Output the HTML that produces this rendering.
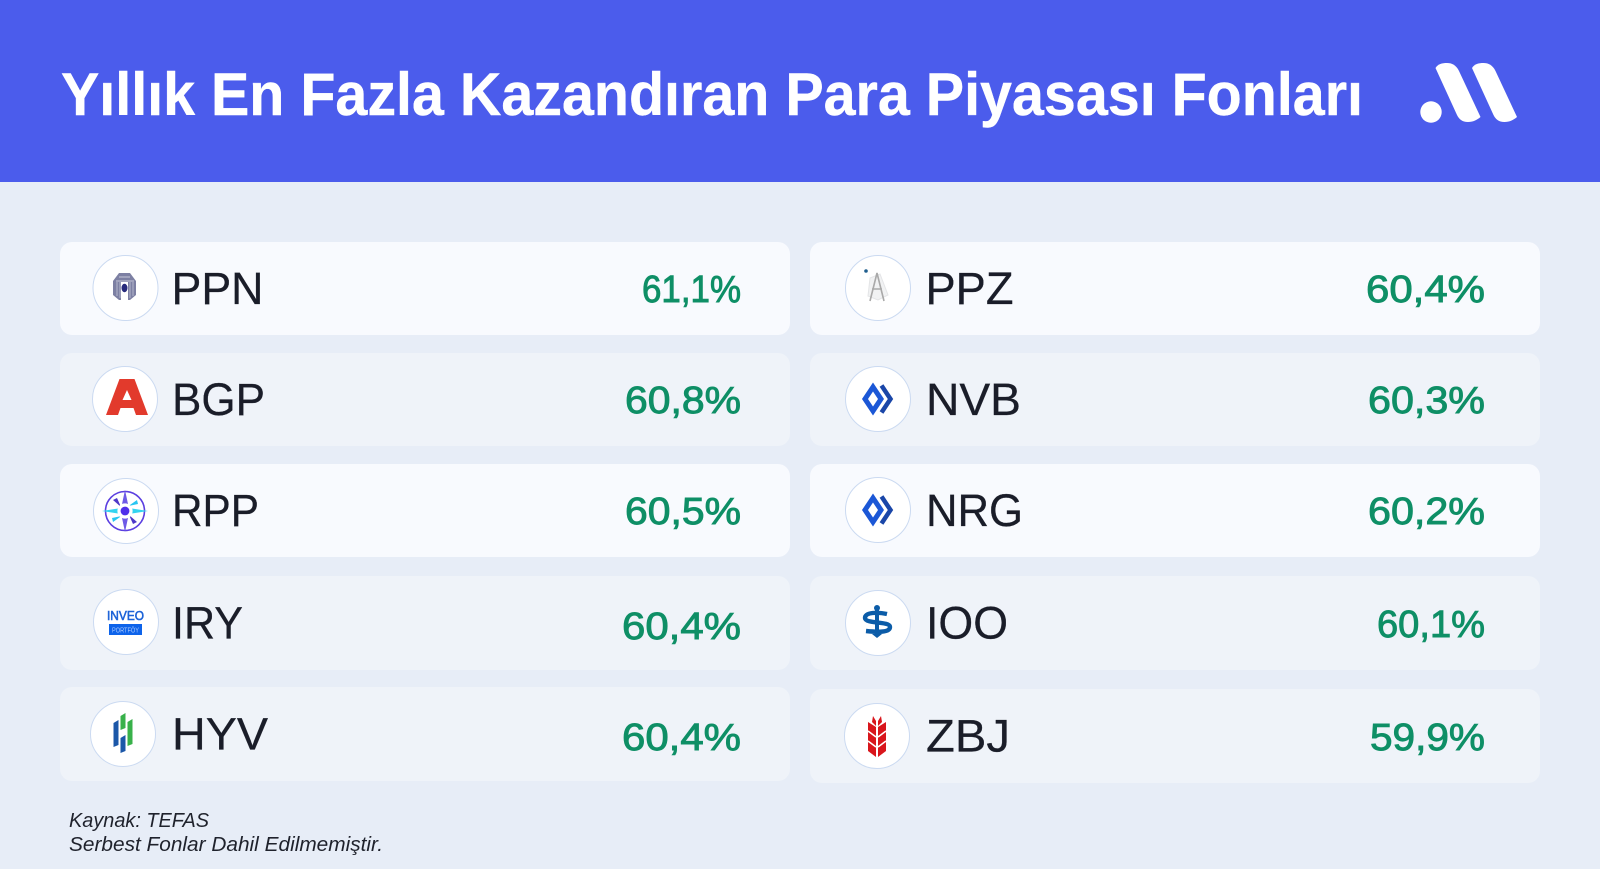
<!DOCTYPE html>
<html lang="tr">
<head>
<meta charset="utf-8">
<title>Yıllık En Fazla Kazandıran Para Piyasası Fonları</title>
<style>
html,body{margin:0;padding:0;background:#E7EDF7;}
svg{display:block;}
text{font-family:"Liberation Sans",sans-serif;}
.ticker{font-size:45px;fill:#1A1D29;stroke:#1A1D29;stroke-width:.25px;}
.val{font-size:38px;fill:#0E8F66;stroke:#0E8F66;stroke-width:.9px;}
.foot{font-size:20px;font-style:italic;fill:#1F222C;}
.odd{fill:#F8FAFE;}
.even{fill:#EFF3F9;}
.disc{fill:#fff;stroke:#CBDAF1;stroke-width:1;}
</style>
</head>
<body>
<svg width="1600" height="869" viewBox="0 0 1600 869" xmlns="http://www.w3.org/2000/svg">
  <rect width="1600" height="869" fill="#E7EDF7"/>
  <rect width="1600" height="182" fill="#4B5CEC"/>
  <text x="61" y="115" font-size="60" font-weight="700" fill="#fff" stroke="#fff" stroke-width=".4" textLength="1302" lengthAdjust="spacingAndGlyphs">Yıllık En Fazla Kazandıran Para Piyasası Fonları</text>

  <g fill="#fff">
    <circle cx="1431" cy="112" r="10.7"/>
    <path d="M1435.5,68 C1438,64 1442,63 1447,63 C1452,63 1456,65 1459,71 L1480.5,117 C1477,120 1473,122 1468,122 C1462,122 1459,119 1457,115 Z"/>
    <path d="M1472,68 C1474.5,64 1478.5,63 1483.5,63 C1488.5,63 1492.5,65 1495.5,71 L1517,117 C1513.5,120 1509.5,122 1504.5,122 C1498.5,122 1495.5,119 1493.5,115 Z"/>
  </g>

  <!-- Left column -->
  <g>
    <rect class="odd" x="60" y="242" width="730" height="93" rx="12"/>
    <circle class="disc" cx="125.5" cy="288" r="32.5"/>
    <g>
      <path d="M119,273 H130 L136,281 V295 L130,300 H119 L113,295 V281 Z" fill="#7D80A3"/>
      <path d="M119,277 H130 M116,281 H134" stroke="#C6C8DA" stroke-width="1"/>
      <path d="M117,282 V296 M120,282 V298 M130,282 V298 M133,282 V296" stroke="#B5B7CE" stroke-width="1"/>
      <rect x="121" y="282" width="7" height="20" fill="#fff"/>
      <ellipse cx="124.5" cy="288" rx="3" ry="4.2" fill="#272A7C"/>
    </g>
    <text class="ticker" x="171.5" y="304" textLength="92" lengthAdjust="spacingAndGlyphs">PPN</text>
    <text class="val" x="642" y="302" textLength="99" lengthAdjust="spacingAndGlyphs">61,1%</text>
  </g>
  <g>
    <rect class="even" x="60" y="353" width="730" height="93" rx="12"/>
    <circle class="disc" cx="125" cy="399" r="32.5"/>
    <path transform="translate(127,397)" fill="#E23A2C" fill-rule="evenodd" d="M-7.5,-18 L7.5,-18 L21,18 L9,18 L6.5,11 L-6.5,11 L-9,18 L-21,18 Z M0,-7 L4.5,3 L-4.5,3 Z"/>
    <text class="ticker" x="172" y="415" textLength="93" lengthAdjust="spacingAndGlyphs">BGP</text>
    <text class="val" x="625" y="413" textLength="116" lengthAdjust="spacingAndGlyphs">60,8%</text>
  </g>
  <g>
    <rect class="odd" x="60" y="464" width="730" height="93" rx="12"/>
    <circle class="disc" cx="126" cy="511" r="32.5"/>
    <g transform="translate(125,511)">
      <circle r="19.5" fill="none" stroke="#5B3FE0" stroke-width="1.6"/>
      <path d="M-4,-4 L-12,-11 L-8,-13 Z M4,4 L12,11 L8,13 Z" fill="#4D38C8"/>
      <path d="M3.5,-5 L12,-11 L13,-7 Z M-3.5,5 L-12,11 L-13,7 Z" fill="#27C6F2"/>
      <path d="M0,-21 L3,-7 H-3 Z M0,21 L3,7 H-3 Z" fill="#6E5AE6"/>
      <path d="M-23,0 L-7,-2.5 V2.5 Z M23,0 L7,-2.5 V2.5 Z" fill="#33D4F0"/>
      <circle r="7.6" fill="#fff"/>
      <circle r="4.4" fill="#4F2EEA"/>
    </g>
    <text class="ticker" x="172" y="526" textLength="87" lengthAdjust="spacingAndGlyphs">RPP</text>
    <text class="val" x="625" y="524" textLength="116" lengthAdjust="spacingAndGlyphs">60,5%</text>
  </g>
  <g>
    <rect class="even" x="60" y="576" width="730" height="94" rx="12"/>
    <circle class="disc" cx="126" cy="622" r="32.5"/>
    <g>
      <text x="107" y="620" font-size="13" fill="#1D63D8" stroke="#1D63D8" stroke-width=".6" textLength="37" lengthAdjust="spacingAndGlyphs">INVEO</text>
      <rect x="109" y="624" width="33" height="11" fill="#0D63EA"/>
      <text x="112" y="632.5" font-size="7.5" fill="#A9C8FF" textLength="27" lengthAdjust="spacingAndGlyphs">PORTFÖY</text>
    </g>
    <text class="ticker" x="172" y="638.5" textLength="71" lengthAdjust="spacingAndGlyphs">IRY</text>
    <text class="val" x="622" y="639" textLength="119" lengthAdjust="spacingAndGlyphs">60,4%</text>
  </g>
  <g>
    <rect class="even" x="60" y="687" width="730" height="94" rx="12"/>
    <circle class="disc" cx="123" cy="734" r="32.5"/>
    <g>
      <path d="M113.5,723 L118.5,720 V745 L113.5,747 Z" fill="#1B57A8"/>
      <path d="M120.5,716 L125.5,713 V728 L120.5,730 Z" fill="#38B14A"/>
      <path d="M120.5,738 L125.5,735 V751 L120.5,753 Z" fill="#1B57A8"/>
      <path d="M127.5,722 L132.5,719 V744 L127.5,746 Z" fill="#38B14A"/>
    </g>
    <text class="ticker" x="172" y="749.5" textLength="96" lengthAdjust="spacingAndGlyphs">HYV</text>
    <text class="val" x="622" y="750" textLength="119" lengthAdjust="spacingAndGlyphs">60,4%</text>
  </g>

  <!-- Right column -->
  <g>
    <rect class="odd" x="810" y="242" width="730" height="93" rx="12"/>
    <circle class="disc" cx="878" cy="288" r="32.5"/>
    <g>
      <path d="M870,278 L880,274 L888,295 L878,300 L868,296 Z" fill="#F1F2F3" stroke="#E4E5E7" stroke-width="1"/>
      <path d="M870,301 L877,273 L884,301 M872,289 H882" fill="none" stroke="#A9A9A9" stroke-width="1.6"/>
      <circle cx="866" cy="271" r="1.8" fill="#1F5E8E"/>
    </g>
    <text class="ticker" x="925.5" y="304" textLength="88" lengthAdjust="spacingAndGlyphs">PPZ</text>
    <text class="val" x="1366" y="302" textLength="119" lengthAdjust="spacingAndGlyphs">60,4%</text>
  </g>
  <g>
    <rect class="even" x="810" y="353" width="730" height="93" rx="12"/>
    <circle class="disc" cx="878" cy="399" r="32.5"/>
    <g fill="none">
      <path d="M873,387 L865,399 L873,411 L881,399 Z" stroke="#1B57D6" stroke-width="5"/>
      <path d="M881.5,385.5 L890.5,399 L881.5,412.5" stroke="#1A46A8" stroke-width="4.5"/>
    </g>
    <text class="ticker" x="926" y="415" textLength="95" lengthAdjust="spacingAndGlyphs">NVB</text>
    <text class="val" x="1368" y="413" textLength="117" lengthAdjust="spacingAndGlyphs">60,3%</text>
  </g>
  <g>
    <rect class="odd" x="810" y="464" width="730" height="93" rx="12"/>
    <circle class="disc" cx="878" cy="510" r="32.5"/>
    <g fill="none">
      <path d="M873,498 L865,510 L873,522 L881,510 Z" stroke="#1B57D6" stroke-width="5"/>
      <path d="M881.5,496.5 L890.5,510 L881.5,523.5" stroke="#1A46A8" stroke-width="4.5"/>
    </g>
    <text class="ticker" x="926" y="526" textLength="97" lengthAdjust="spacingAndGlyphs">NRG</text>
    <text class="val" x="1368" y="524" textLength="117" lengthAdjust="spacingAndGlyphs">60,2%</text>
  </g>
  <g>
    <rect class="even" x="810" y="576" width="730" height="94" rx="12"/>
    <circle class="disc" cx="878" cy="623" r="32.5"/>
    <g>
      <circle cx="877" cy="608" r="3" fill="#0B5CA8"/>
      <rect x="875" y="610" width="4" height="26" fill="#0B5CA8"/>
      <path d="M887,614 C878,612 865,612 865,618 C865,624 890,621 890,627 C890,633 876,632 866,631" fill="none" stroke="#0B5CA8" stroke-width="4.4"/>
      <path d="M872,634 H882 L877,638 Z" fill="#0B5CA8"/>
    </g>
    <text class="ticker" x="926" y="638.5" textLength="82" lengthAdjust="spacingAndGlyphs">IOO</text>
    <text class="val" x="1377" y="637" textLength="108" lengthAdjust="spacingAndGlyphs">60,1%</text>
  </g>
  <g>
    <rect class="even" x="810" y="689" width="730" height="94" rx="12"/>
    <circle class="disc" cx="877" cy="736" r="32.5"/>
    <g>
      <path d="M868,722 L876,727 V757 L868,751 Z M886,722 L878,727 V757 L886,751 Z" fill="#D9161C"/>
      <path d="M873,716 L876,721 V726 L872,722 Z M881,716 L878,721 V726 L882,722 Z" fill="#D9161C"/>
      <path d="M868,731 L876,737 M886,731 L878,737 M868,741 L876,747 M886,741 L878,747" stroke="#fff" stroke-width="1.6"/>
    </g>
    <text class="ticker" x="926" y="751.5" textLength="84" lengthAdjust="spacingAndGlyphs">ZBJ</text>
    <text class="val" x="1370" y="750" textLength="115" lengthAdjust="spacingAndGlyphs">59,9%</text>
  </g>

  <text class="foot" x="69" y="827" textLength="140" lengthAdjust="spacingAndGlyphs">Kaynak: TEFAS</text>
  <text class="foot" x="69" y="851" textLength="314" lengthAdjust="spacingAndGlyphs">Serbest Fonlar Dahil Edilmemiştir.</text>
</svg>
</body>
</html>
